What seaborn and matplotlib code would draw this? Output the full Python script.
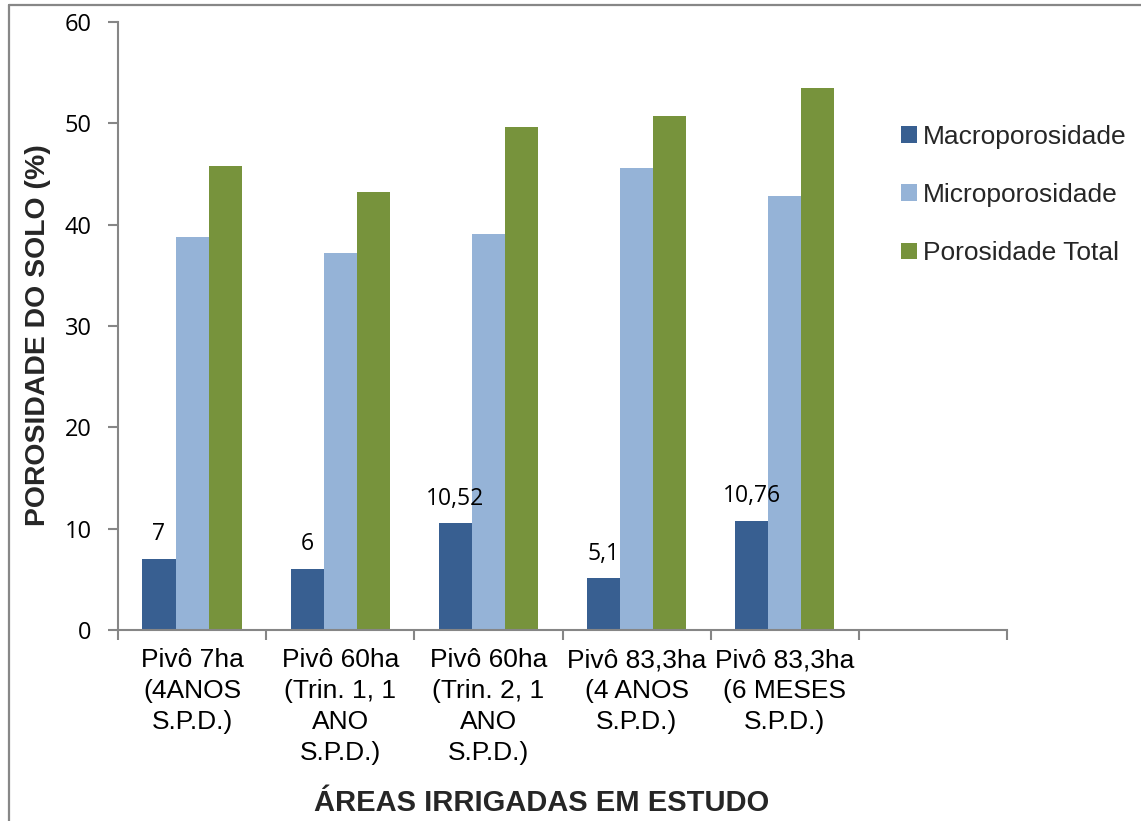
import matplotlib
matplotlib.use("Agg")
import matplotlib.pyplot as plt
from matplotlib.lines import Line2D
import numpy as np
import pandas as pd
import seaborn as sns

# Soil porosity by irrigated area
areas = [
    "Pivô 7ha\n(4ANOS\nS.P.D.)",
    "Pivô 60ha\n(Trin. 1, 1\nANO\nS.P.D.)",
    "Pivô 60ha\n(Trin. 2, 1\nANO\nS.P.D.)",
    "Pivô 83,3ha\n(4 ANOS\nS.P.D.)",
    "Pivô 83,3ha\n(6 MESES\nS.P.D.)",
]
series = ["Macroporosidade", "Microporosidade", "Porosidade Total"]
macro = [7.0, 6.0, 10.52, 5.1, 10.76]
micro = [38.8, 37.2, 39.1, 45.6, 42.8]
total = [45.8, 43.2, 49.6, 50.7, 53.5]
macro_labels = ["7", "6", "10,52", "5,1", "10,76"]
colors = ["#385F91", "#95B3D7", "#77933C"]

df = pd.DataFrame({
    "area": areas * 3,
    "serie": [series[0]] * 5 + [series[1]] * 5 + [series[2]] * 5,
    "valor": macro + micro + total,
})

sns.set_theme(style="white")
plt.rcParams["font.family"] = ["Liberation Sans", "DejaVu Sans"]

W, H = 1141, 821
fig = plt.figure(figsize=(W / 100, H / 100), dpi=100)
ax = fig.add_axes([118 / W, 1 - 630 / H, (1007 - 118) / W, (630 - 22) / H])

sns.barplot(data=df, x="area", y="valor", hue="serie", order=areas,
            hue_order=series, palette=colors, width=0.67, saturation=1,
            linewidth=0, ax=ax)

handles, labels = ax.get_legend_handles_labels()
if ax.get_legend() is not None:
    ax.get_legend().remove()

# Value labels above the macroporosity bars
for bar, txt in zip(ax.containers[0], macro_labels):
    ax.annotate(txt, (bar.get_x() + bar.get_width() / 2, bar.get_height()),
                xytext=(0, 13.5), textcoords="offset points",
                ha="center", va="baseline", fontsize=16.5,
                family=["Open Sans", "DejaVu Sans"], color="black")

ax.set_xlim(-0.5, 5.5)
ax.set_ylim(0, 60)
ax.set_yticks(np.arange(0, 61, 10))
ax.set_yticklabels([str(v) for v in range(0, 61, 10)],
                   family=["Open Sans", "DejaVu Sans"], fontsize=17)

# Category boundaries as major ticks, labels on minor ticks
ax.set_xticks(np.arange(-0.5, 5.6, 1.0))
ax.set_xticklabels([""] * 7)
ax.set_xticks(np.arange(len(areas)), minor=True)
ax.set_xticklabels(areas, minor=True, fontsize=19, linespacing=1.36)
ax.tick_params(axis="x", which="major", direction="out", length=7,
               width=1.5, color="#868686", bottom=True)
ax.tick_params(axis="x", which="minor", length=0, pad=13, colors="black")
ax.tick_params(axis="y", direction="out", length=7, width=1.5,
               color="#868686", pad=12, left=True, labelcolor="black")

ax.set_xlabel("")
ax.set_ylabel("")
for side in ["top", "right"]:
    ax.spines[side].set_visible(False)
for side in ["left", "bottom"]:
    ax.spines[side].set_color("#868686")
    ax.spines[side].set_linewidth(1.5)

fig.legend(handles, labels, loc="center left",
           bbox_to_anchor=(901 / W, 1 - 195 / H), frameon=False,
           fontsize=19, handlelength=0.6, handleheight=0.6,
           handletextpad=0.22, labelspacing=1.3, borderpad=0,
           borderaxespad=0)

fig.text(38 / W, 1 - 335 / H, "POROSIDADE DO SOLO (%)", rotation=90,
         ha="center", va="center", fontsize=20.4, fontweight="bold")
fig.text(542 / W, 1 - 803 / H, "ÁREAS IRRIGADAS EM ESTUDO",
         ha="center", va="center", fontsize=21, fontweight="bold")

# Outer chart frame
fig.add_artist(Line2D([9 / W, 9 / W], [0, 1 - 5 / H], transform=fig.transFigure,
                      color="#878787", linewidth=1.6))
fig.add_artist(Line2D([9 / W, 1], [1 - 5 / H, 1 - 5 / H], transform=fig.transFigure,
                      color="#878787", linewidth=1.6))

fig.savefig("out.png", dpi=100)
